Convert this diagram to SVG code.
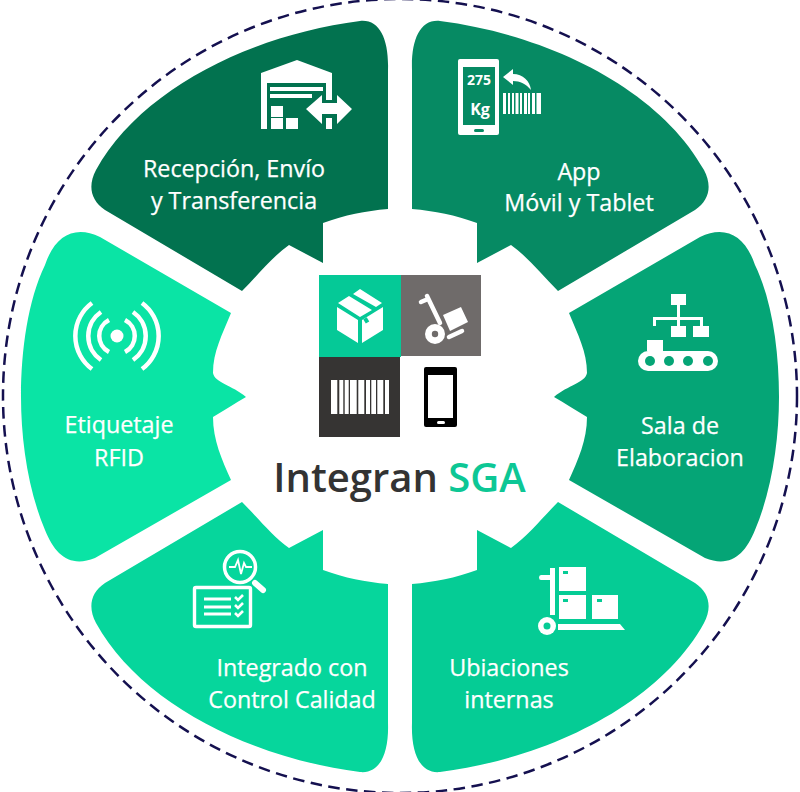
<svg xmlns="http://www.w3.org/2000/svg" width="800" height="792" viewBox="0 0 800 792">
<style>
text{font-family:"Open Sans","Noto Sans","DejaVu Sans",sans-serif}
.l{fill:#fff;font-size:23.300px;text-anchor:middle;stroke:#fff;stroke-width:.25px}
.w{fill:#fff}
.s{fill:none;stroke:#fff}
</style>
<defs>
<path id="tl" d="M388 209C365 211 345 215 323 223L323 263L289 245C272 257 258 275 242 291L105 210C90 200 88 185 96 170C140 90 250 35 360 21C380 19 389 40 388 70Z"/>
<path id="lf" d="M231 313C222 335 213 352 213 373C215 383 232 385 246 397C235 403 225 410 213 417C213 440 222 460 231 480L95 558C70 568 55 555 45 530C28 490 21 440 21 397C21 350 28 300 45 265C55 235 75 225 100 237Z"/>
</defs>
<rect width="800" height="792" fill="#fff"/>
<circle id="ring" cx="400" cy="396" r="397" fill="none" stroke="#14104f" stroke-width="2.500" stroke-dasharray="11.500 6.500"/>

<g id="node-recepcion">
<use href="#tl" fill="#02724f"/>
<path class="w" d="M261 73L297 60L332 73V100H326V83H267V129H261Z"/>
<path class="w" d="M270 87H323V91H270ZM270 94H312V98L270 98ZM271 106H283V117H271ZM271 118H283V129H271ZM286 118H298V129H286ZM326 118H332V129H326Z"/>
<path class="w" d="M306 109L322 95V103H337V95L352 109L337 124V114H322V124Z"/>
<text class="l" x="234" y="177">Recepción, Envío</text>
<text class="l" x="234" y="209">y Transferencia</text>
</g>

<g id="node-app">
<use href="#tl" transform="matrix(-1 0 0 1 800 0)" fill="#068a63"/>
<rect class="w" x="458" y="59" width="41" height="76" rx="2"/>
<rect x="463" y="67" width="32" height="58" fill="#068a63"/>
<rect x="474" y="129" width="10" height="3" rx="1.500" fill="#068a63"/>
<text x="479" y="85" fill="#fff" font-size="14" font-weight="700" text-anchor="middle">275</text>
<text x="480" y="115" fill="#fff" font-size="16" font-weight="700" text-anchor="middle">Kg</text>
<path class="w" d="M503 77L513 69V74C523 74 530 81 531 90C526 84 520 81 513 81V85Z"/>
<path class="w" d="M503 93h3v21h-3zM508 93h2v21h-2zM512 93h2v21h-2zM515.500 93h3v21h-3zM520 93h2v21h-2zM524 93h3v21h-3zM528 93h2v21h-2zM532 93h3v21h-3zM536.500 93h4.500v21h-4.500z"/>
<text class="l" x="579" y="180">App</text>
<text class="l" x="579" y="211">Móvil y Tablet</text>
</g>

<g id="node-sala">
<use href="#lf" transform="matrix(-1 0 0 1 800 0)" fill="#05a576"/>
<path class="w" d="M671 294H686V305H680V317H703V326H700V320H680V326H686V337H671V326H677V320H656V326H653V317H677V305H671ZM693 326H709V337H693ZM647 340H663V351H647Z"/>
<rect class="w" x="638" y="351" width="80" height="20" rx="10"/>
<g fill="#05a576"><circle cx="650" cy="361" r="5"/><circle cx="669" cy="361" r="5"/><circle cx="688" cy="361" r="5"/><circle cx="708" cy="361" r="5"/></g>
<text class="l" x="680" y="434">Sala de</text>
<text class="l" x="680" y="466">Elaboracion</text>
</g>

<g id="node-ubicaciones">
<use href="#tl" transform="matrix(-1 0 0 -1 800 793)" fill="#05cc95"/>
<path class="w" d="M559 567H586V591H559ZM559 595H586V619H559ZM592 595H618V619H592ZM550 568H555V615L550 615V580H541Q539 580 539 577.500T541 575H550ZM558 624H620L625 630H558Z"/>
<g fill="#05cc95"><rect x="563" y="571" width="5" height="3"/><rect x="563" y="599" width="5" height="3"/><rect x="597" y="599" width="5" height="3"/></g>
<circle class="w" cx="547" cy="626" r="9"/><circle cx="547" cy="626" r="3.500" fill="#05cc95"/>
<text class="l" x="509" y="676">Ubiaciones</text>
<text class="l" x="509" y="708">internas</text>
</g>

<g id="node-integrado">
<use href="#tl" transform="matrix(1 0 0 -1 0 793)" fill="#06d69c"/>
<circle class="s" cx="240" cy="567" r="15.500" stroke-width="3.500"/>
<path class="s" stroke-width="6" stroke-linecap="round" d="M255 583L263 590"/>
<path class="s" stroke-width="1.800" d="M229 567H235L238 560L241 574L244 563L246 567H252"/>
<rect class="s" x="194.500" y="587.500" width="56" height="39" rx="1.500" stroke-width="3.400"/>
<path class="s" stroke-width="3" d="M204 599H231M204 607H231M204 614H231"/>
<path class="s" stroke-width="2.600" d="M235 597L238 600L243 595M235 605L238 608L243 603M235 613L238 616L243 611"/>
<text class="l" x="292" y="676">Integrado con</text>
<text class="l" x="292" y="708">Control Calidad</text>
</g>

<g id="node-etiquetaje">
<use href="#lf" fill="#0ae4a5"/>
<circle class="w" cx="117" cy="336" r="6.500"/>
<g class="s" stroke-width="4.500">
<path d="M109 320A18 18 0 0 0 109 352M125 320A18 18 0 0 1 125 352"/>
<path d="M101 312A29 29 0 0 0 101 360M133 312A29 29 0 0 1 133 360"/>
<path d="M92 303A41 41 0 0 0 92 369M142 303A41 41 0 0 1 142 369"/>
</g>
<text class="l" x="119" y="433">Etiquetaje</text>
<text class="l" x="119" y="466">RFID</text>
</g>

<g id="node-center">
<rect x="319" y="275" width="82" height="82" fill="#05c997"/>
<rect x="401" y="275" width="80" height="81" fill="#6f6b6a"/>
<rect x="319" y="357" width="81" height="80" fill="#363433"/>
<path class="w" d="M337 307L358 320V343L337 330ZM362 320L383 307V330L362 343ZM338 303L349 296L372 310L360 317ZM353 294L360 289L382 303L376 307Z"/>
<rect x="364" y="318" width="4" height="5" fill="#05c997" transform="rotate(-30 366 320)"/>
<circle class="w" cx="435" cy="334" r="10"/><circle cx="435" cy="334" r="3.200" fill="#6f6b6a"/>
<path class="s" stroke-width="4.500" stroke-linecap="round" d="M427 296L440 323M421 302L428 299M449 337L462 331"/>
<path class="w" d="M443 315L461 307L468 322L450 331Z"/>
<path class="w" d="M331 380h6.300v34h-6.300zM339.300 380h4v34h-4zM344.700 380h4v34h-4zM350 380h6.700v34h-6.700zM358.300 380h6v34h-6zM366 380h4v34h-4zM371.300 380h4.700v34h-4.700zM377.300 380h6v34h-6zM385 380h4v34h-4z"/>
<rect x="424" y="367" width="33" height="60" rx="2" fill="#000"/>
<rect class="w" x="428" y="375" width="25" height="43"/>
<rect class="w" x="437" y="421" width="8" height="3" rx="1.500"/>
<text x="399.500" y="492" font-size="40" font-weight="600" text-anchor="middle" fill="#333"><tspan>Integran </tspan><tspan fill="#0dc795">SGA</tspan></text>
</g>
</svg>
